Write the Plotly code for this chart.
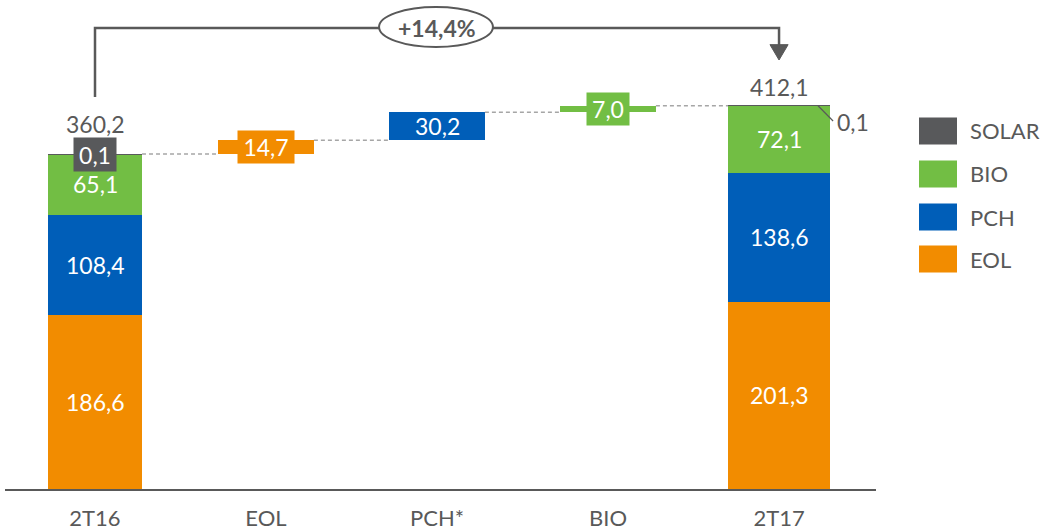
import plotly.graph_objects as go

# ---------------- data ----------------
categories = ["2T16", "EOL", "PCH*", "BIO", "2T17"]
series = ["EOL", "PCH", "BIO", "SOLAR"]
colors = {"EOL": "#F28C00", "PCH": "#005EB8", "BIO": "#72BE44", "SOLAR": "#58595B"}

start_values = {"EOL": 186.6, "PCH": 108.4, "BIO": 65.1, "SOLAR": 0.1}   # 2T16
end_values = {"EOL": 201.3, "PCH": 138.6, "BIO": 72.1, "SOLAR": 0.1}     # 2T17
delta_series = ["EOL", "PCH", "BIO"]
delta_values = [14.7, 30.2, 7.0]
growth_label = "+14,4%"

def fmt(v):
    return f"{v:.1f}".replace(".", ",")

# ---------------- layout helpers ----------------
W, H = 1041, 532
x_left_px, x_right_px = 5, 876
base_px = 489
FONT = "Lato"
GRAY = "#595959"
ppu = 0.93                      # pixels per unit
yr_max = base_px / ppu
x0_pos = -0.5263
x1_pos = 4.567

def px_x(px):
    return px / W

def px_y(py):
    return (H - py) / H

fig = go.Figure()

w_start, w_end, w_delta = 0.55, 0.596, 0.56

# stacked start / end bars
total_start = 0.0
total_end = 0.0
for s in series:
    fig.add_trace(go.Bar(
        x=[0, 4], y=[start_values[s], end_values[s]],
        base=[total_start, total_end], width=[w_start, w_end],
        marker=dict(color=colors[s], line=dict(width=0)),
        name=s, showlegend=False, hoverinfo="skip"))
    total_start += start_values[s]
    total_end += end_values[s]

# floating delta bars
running = total_start
delta_bases = []
for i, (s, v) in enumerate(zip(delta_series, delta_values)):
    delta_bases.append(running)
    fig.add_trace(go.Bar(
        x=[i + 1], y=[v], base=[running], width=[w_delta],
        marker=dict(color=colors[s], line=dict(width=0)),
        showlegend=False, hoverinfo="skip"))
    running += v

annotations = []
shapes = []

# labels inside stacked bars
def seg_labels(xpos, values):
    cum = 0.0
    for s in ["EOL", "PCH", "BIO"]:
        v = values[s]
        annotations.append(dict(x=xpos, y=cum + v / 2, text=fmt(v), showarrow=False,
                                font=dict(family=FONT, size=23, color="white"),
                                xref="x", yref="y"))
        cum += v
    return cum

top0 = seg_labels(0, start_values)
top4 = seg_labels(4, end_values)

# SOLAR labels
annotations.append(dict(x=0, y=total_start, text=fmt(start_values["SOLAR"]), showarrow=False,
                        font=dict(family=FONT, size=23, color="white"),
                        bgcolor=colors["SOLAR"], width=42, height=33, borderpad=0,
                        xref="x", yref="y"))
annotations.append(dict(x=4.33, y=394.6, text=fmt(end_values["SOLAR"]), showarrow=False,
                        xanchor="left",
                        font=dict(family=FONT, size=23, color=GRAY), xref="x", yref="y"))
shapes.append(dict(type="line", xref="x", yref="y", x0=4.228, y0=total_end,
                   x1=4.316, y1=395.7, line=dict(color=GRAY, width=1.2)))

# totals
annotations.append(dict(x=0, y=total_start, yshift=30, text=fmt(total_start), showarrow=False,
                        font=dict(family=FONT, size=23, color=GRAY), xref="x", yref="y"))
annotations.append(dict(x=4, y=total_end, yshift=19, text=fmt(total_end), showarrow=False,
                        font=dict(family=FONT, size=23, color=GRAY), xref="x", yref="y"))

# delta labels
box_w = {"EOL": 56, "PCH": None, "BIO": 42}
for i, (s, v, b) in enumerate(zip(delta_series, delta_values, delta_bases)):
    a = dict(x=i + 1, y=b + v / 2, text=fmt(v), showarrow=False,
             font=dict(family=FONT, size=23, color="white"), xref="x", yref="y")
    if box_w[s]:
        a.update(bgcolor=colors[s], width=box_w[s], height=32, borderpad=0)
    annotations.append(a)

# dashed connectors
levels = [total_start] + [b + v for b, v in zip(delta_bases, delta_values)]
widths = [w_start, w_delta, w_delta, w_delta, w_end]
for i in range(4):
    shapes.append(dict(type="line", xref="x", yref="y",
                       x0=i + widths[i] / 2, x1=i + 1 - widths[i + 1] / 2,
                       y0=levels[i], y1=levels[i],
                       line=dict(color="#A6A6A6", width=1.5, dash="4px,3px")))

# growth bracket
y_br = 495.7
y_left_start = 421.5
y_arrow_tip = 461.3
shapes.append(dict(type="path", xref="x", yref="y",
                   path=f"M 0 {y_left_start} L 0 {y_br} L 4 {y_br} L 4 {y_arrow_tip + 15}",
                   line=dict(color=GRAY, width=2.5)))
shapes.append(dict(type="path", xref="x", yref="y",
                   path=f"M {4 - 0.053} {y_arrow_tip + 16.5} L {4 + 0.053} {y_arrow_tip + 16.5} L 4 {y_arrow_tip} Z",
                   fillcolor=GRAY, line=dict(color=GRAY, width=1)))
shapes.append(dict(type="circle", xref="x", yref="y",
                   x0=1.661, x1=2.327, y0=475.3, y1=518.3,
                   fillcolor="white", line=dict(color=GRAY, width=2)))
annotations.append(dict(x=2, y=y_br, text=f"<b>{growth_label}</b>", showarrow=False,
                        font=dict(family=FONT, size=23, color=GRAY), xref="x", yref="y"))

# custom legend
legend_order = ["SOLAR", "BIO", "PCH", "EOL"]
legend_y = [131, 174, 217, 259]
for s, ly in zip(legend_order, legend_y):
    shapes.append(dict(type="rect", xref="paper", yref="paper",
                       x0=px_x(919), x1=px_x(957), y0=px_y(ly + 13.5), y1=px_y(ly - 13.5),
                       fillcolor=colors[s], line=dict(width=0)))
    annotations.append(dict(x=px_x(968), y=px_y(ly), xref="paper", yref="paper",
                            xanchor="left", yanchor="middle", text=s, showarrow=False,
                            font=dict(family=FONT, size=22, color=GRAY)))

fig.update_layout(
    width=W, height=H,
    margin=dict(l=0, r=0, t=0, b=0),
    paper_bgcolor="white", plot_bgcolor="white",
    barmode="overlay", bargap=0,
    showlegend=False,
    xaxis=dict(domain=[px_x(x_left_px), px_x(x_right_px)], range=[x0_pos, x1_pos],
               tickmode="array", tickvals=list(range(len(categories))), ticktext=categories,
               showline=True, linecolor=GRAY, linewidth=2, ticks="", showgrid=False,
               zeroline=False, automargin=False, ticklabelstandoff=9,
               tickfont=dict(family=FONT, size=22, color=GRAY)),
    yaxis=dict(domain=[px_y(base_px), 1], range=[0, yr_max], visible=False,
               showgrid=False, zeroline=False, automargin=False),
    annotations=annotations, shapes=shapes,
)

fig.write_html("out.html")
